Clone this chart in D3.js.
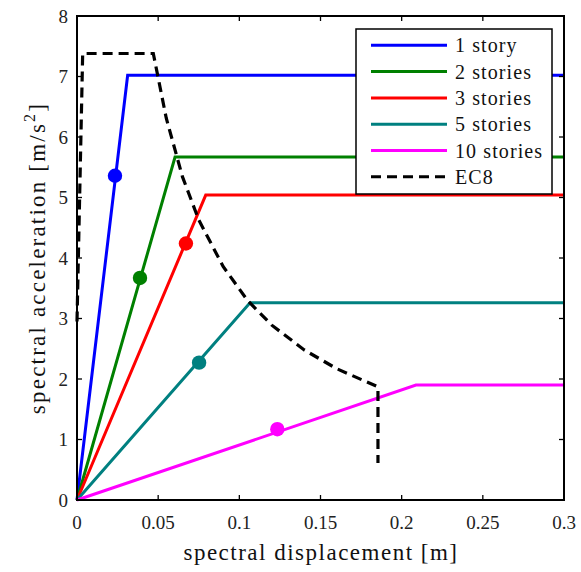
<!DOCTYPE html>
<html><head><meta charset="utf-8">
<script src="https://cdn.jsdelivr.net/npm/d3@7"></script>
<style>body{margin:0;background:#fff;} svg text{font-family:"Times New Roman","Liberation Serif",Tinos,"DejaVu Serif","Noto Serif",serif;}</style>
</head><body><svg id="c" width="581" height="572"></svg>
<script>
const xTicks = [0,0.05,0.1,0.15,0.2,0.25,0.3];
const xTickLabels = ["0","0.05","0.1","0.15","0.2","0.25","0.3"];
const yTicks = [0,1,2,3,4,5,6,7,8];
const seriesNames = ["1 story","2 stories","3 stories","5 stories","10 stories"];
const seriesColors = ["#0000ff","#008000","#ff0000","#008080","#ff00ff"];
// capacity curves: [sd, sa]
const story1 = [[0,0],[0.0312,7.02],[0.3,7.02]];
const story2 = [[0,0],[0.0604,5.67],[0.3,5.67]];
const story3 = [[0,0],[0.0793,5.04],[0.3,5.04]];
const story5 = [[0,0],[0.1066,3.26],[0.3,3.26]];
const story10 = [[0,0],[0.2088,1.90],[0.3,1.90]];
const perfPoints = [[0.0234,5.36],[0.0388,3.67],[0.0671,4.24],[0.0752,2.27],[0.1234,1.17]];
const ec8Sd = [0,0.0035,0.047,0.055,0.065,0.075,0.09,0.105,0.12,0.14,0.16,0.1854,0.1854];
const ec8Sa = [2.95,7.38,7.38,6.31,5.34,4.63,3.86,3.30,2.89,2.48,2.17,1.87,0.61];

const svg = d3.select("#c");
const L=77,R=564,T=16,B=500;
const x = d3.scaleLinear().domain([0,0.3]).range([L,R]);
const y = d3.scaleLinear().domain([0,8]).range([B,T]);
const series=[story1,story2,story3,story5,story10];
const line = d3.line().x(d=>x(d[0])).y(d=>y(d[1]));

const g = svg.append("g");
series.forEach((s,i)=>{
  g.append("path").attr("d",line(s)).attr("fill","none").attr("stroke",seriesColors[i]).attr("stroke-width",3).attr("stroke-linejoin","miter");
});
const ec8 = ec8Sd.map((d,i)=>[d,ec8Sa[i]]);
g.append("path").attr("d",line(ec8)).attr("fill","none").attr("stroke","#000").attr("stroke-width",3.2).attr("stroke-dasharray","10,6");
perfPoints.forEach((p,i)=>{
  g.append("circle").attr("cx",x(p[0])).attr("cy",y(p[1])).attr("r",7.2).attr("fill",seriesColors[i]);
});

// axes box
svg.append("rect").attr("x",L).attr("y",T).attr("width",R-L).attr("height",B-T).attr("fill","none").attr("stroke","#000").attr("stroke-width",2);
const ax = svg.append("g");
xTicks.forEach((t,i)=>{
  ax.append("line").attr("x1",x(t)).attr("x2",x(t)).attr("y1",B).attr("y2",B-5).attr("stroke","#000").attr("stroke-width",1.3);
  ax.append("line").attr("x1",x(t)).attr("x2",x(t)).attr("y1",T).attr("y2",T+5).attr("stroke","#000").attr("stroke-width",1.3);
  ax.append("text").attr("x",x(t)).attr("y",529).attr("text-anchor","middle").attr("font-size",19).attr("fill","#222").text(xTickLabels[i]);
});
yTicks.forEach(t=>{
  ax.append("line").attr("x1",L).attr("x2",L+5).attr("y1",y(t)).attr("y2",y(t)).attr("stroke","#000").attr("stroke-width",1.3);
  ax.append("line").attr("x1",R).attr("x2",R-5).attr("y1",y(t)).attr("y2",y(t)).attr("stroke","#000").attr("stroke-width",1.3);
  ax.append("text").attr("x",68).attr("y",y(t)+6.5).attr("text-anchor","end").attr("font-size",19).attr("fill","#222").text(t);
});
svg.append("text").attr("x",321).attr("y",560).attr("text-anchor","middle").attr("font-size",23).attr("letter-spacing",1.5).attr("fill","#111").text("spectral displacement [m]");
const yl = svg.append("text").attr("transform","translate(45,258) rotate(-90)").attr("text-anchor","middle").attr("font-size",23).attr("letter-spacing",2.2).attr("fill","#111");
yl.append("tspan").text("spectral acceleration [m/s");
yl.append("tspan").attr("dy",-10).attr("font-size",16).text("2");
yl.append("tspan").attr("dy",10).text("]");

// legend
const lg = svg.append("g");
lg.append("rect").attr("x",356).attr("y",29).attr("width",196).attr("height",165).attr("fill","#fff").attr("stroke","#000").attr("stroke-width",1.5);
const legNames = seriesNames.concat(["EC8"]);
legNames.forEach((n,i)=>{
  const yy = 45.3 + i*26.3;
  lg.append("line").attr("x1",371).attr("x2",447).attr("y1",yy).attr("y2",yy)
    .attr("stroke", i<5?seriesColors[i]:"#000").attr("stroke-width",3)
    .attr("stroke-dasharray", i<5?null:"10,6");
  lg.append("text").attr("x",455).attr("y",yy+7).attr("font-size",20).attr("letter-spacing",1.1).attr("fill","#111").text(n);
});
</script></body></html>
